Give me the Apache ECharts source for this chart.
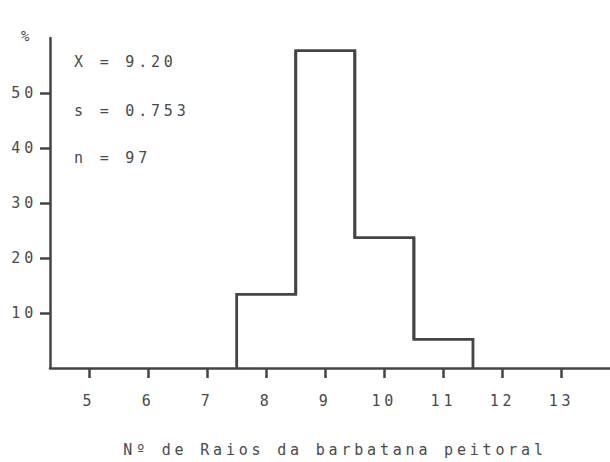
<!DOCTYPE html>
<html>
<head>
<meta charset="utf-8">
<script src="https://cdn.jsdelivr.net/npm/echarts@6/dist/echarts.min.js"></script>
<style>
  html, body { margin: 0; padding: 0; background: #ffffff; }
  #chart { width: 610px; height: 462px; }
  /* wide plotter-style spacing for every label */
  #chart text { letter-spacing: 3.8px; }
</style>
</head>
<body>
<div id="chart"></div>
<script>
// Pectoral fin ray counts and their percentage frequencies
const rayCounts = [8, 9, 10, 11];
const percentages = [13.4, 57.7, 23.7, 5.2];

// Axis ticks
const xTickValues = [5, 6, 7, 8, 9, 10, 11, 12, 13];
const yTickValues = [10, 20, 30, 40, 50];

// Summary statistics and axis texts
const statLines = ['X = 9.20', 's = 0.753', 'n = 97'];
const xAxisTitle = 'Nº de Raios da barbatana peitoral';
const yAxisUnit = '%';

const INK = '#444444';
const TEXT = '#4a4a4a';
const FONT = 'DejaVu Sans Mono';

const chart = echarts.init(document.getElementById('chart'), null, { renderer: 'svg' });

const histData = rayCounts.map((c, i) => [c, percentages[i]]);

// Height of the neighbouring class, 0 outside the range
function neighbour(i) {
  return i >= 0 && i < histData.length ? histData[i][1] : 0;
}

chart.setOption({
  backgroundColor: '#ffffff',
  animation: false,
  grid: { left: 50, right: 0, top: 38, bottom: 92, containLabel: false },
  xAxis: {
    type: 'value',
    min: 4.34,
    max: 13.82,
    splitLine: { show: false },
    axisLine: { show: true, lineStyle: { color: INK, width: 2.5 } },
    axisTick: {
      show: true, length: 10, inside: false,
      customValues: xTickValues,
      lineStyle: { color: INK, width: 2.5 }
    },
    axisLabel: {
      customValues: xTickValues,
      margin: 25,
      color: TEXT, fontFamily: FONT, fontSize: 15
    },
    name: xAxisTitle,
    nameLocation: 'middle',
    nameGap: 74,
    nameTextStyle: { color: TEXT, fontFamily: FONT, fontSize: 15, padding: [0, 0, 0, 10] }
  },
  yAxis: {
    type: 'value',
    min: 0,
    max: 60,
    splitLine: { show: false },
    axisLine: { show: true, lineStyle: { color: INK, width: 2.5 } },
    axisTick: {
      show: true, length: 10, inside: false,
      customValues: yTickValues,
      lineStyle: { color: INK, width: 2.5 }
    },
    axisLabel: {
      customValues: yTickValues,
      margin: 13,
      color: TEXT, fontFamily: FONT, fontSize: 15
    }
  },
  graphic: [
    {
      type: 'text', x: 21, y: 36,
      style: { text: yAxisUnit, fill: TEXT, font: '14px ' + FONT, align: 'left', verticalAlign: 'middle' }
    },
    ...statLines.map((t, i) => ({
      type: 'text', x: 74, y: [61.5, 111, 158][i],
      style: { text: t, fill: TEXT, font: '15px ' + FONT, align: 'left', verticalAlign: 'middle' }
    }))
  ],
  series: [{
    type: 'custom',
    data: histData,
    // Stepped outline: each class draws its rise from the previous class,
    // its top, and its drop to the next class
    renderItem: function (params, api) {
      const i = params.dataIndex;
      const x = api.value(0);
      const v = api.value(1);
      const prev = neighbour(i - 1);
      const next = neighbour(i + 1);
      const a = api.coord([x - 0.5, prev]);
      const b = api.coord([x - 0.5, v]);
      const c = api.coord([x + 0.5, v]);
      const d = api.coord([x + 0.5, next]);
      return {
        type: 'polyline',
        shape: { points: [a, b, c, d] },
        style: { stroke: INK, lineWidth: 2.8, fill: null, lineJoin: 'miter' }
      };
    }
  }]
});
</script>
</body>
</html>
